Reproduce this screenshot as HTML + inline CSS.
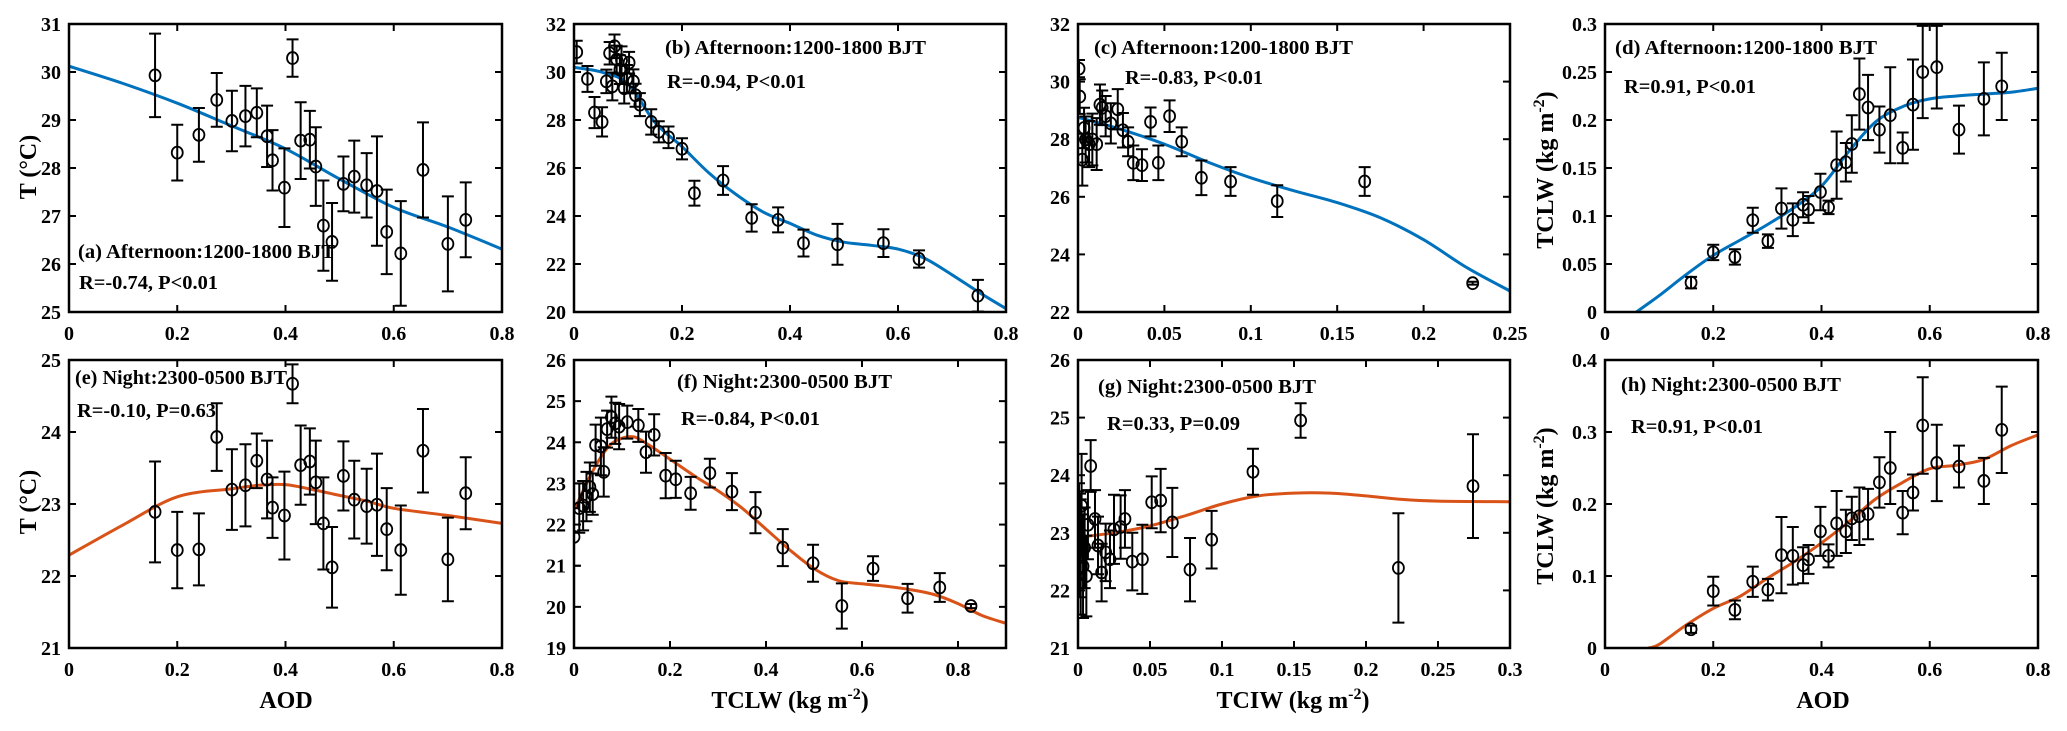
<!DOCTYPE html>
<html><head><meta charset="utf-8"><style>
html,body{margin:0;padding:0;background:#fff;}
svg{display:block;font-family:"Liberation Serif","Times New Roman",serif;font-weight:bold;}
svg text{font-family:"Liberation Serif","Times New Roman",serif;font-weight:bold;}
</style></head>
<body>
<svg id="fig" width="2067" height="731" viewBox="0 0 2067 731" xmlns="http://www.w3.org/2000/svg"></svg>
<script>
// ---------- DATA ----------
const aodX = [0.159,0.200,0.240,0.273,0.301,0.326,0.347,0.366,0.376,0.398,0.413,0.428,0.445,0.456,0.470,0.486,0.507,0.527,0.550,0.569,0.587,0.613,0.654,0.700,0.733];
const aY = [29.93,28.32,28.69,29.42,28.98,29.08,29.15,28.66,28.16,27.59,30.29,28.57,28.59,28.03,26.8,26.46,27.67,27.82,27.64,27.52,26.67,26.22,27.96,26.42,26.92];
const aErr = [0.87,0.58,0.56,0.56,0.63,0.63,0.51,0.64,0.63,0.82,0.39,0.8,0.6,0.82,0.94,0.81,0.57,0.75,0.67,1.14,0.88,1.09,0.99,0.99,0.78];
const aFitX = [0,0.1,0.2,0.3,0.4,0.5,0.6,0.7,0.8];
const aFitY = [30.12,29.76,29.35,28.88,28.40,27.77,27.18,26.77,26.31];

const eY = [22.89,22.36,22.37,23.93,23.20,23.26,23.60,23.34,22.95,22.84,24.67,23.54,23.59,23.30,22.73,22.12,23.39,23.06,22.97,22.99,22.65,22.36,23.74,22.23,23.15];
const eErr = [0.7,0.53,0.5,0.47,0.56,0.57,0.38,0.54,0.42,0.61,0.27,0.55,0.46,0.58,0.64,0.56,0.48,0.54,0.52,0.71,0.57,0.62,0.58,0.58,0.5];
const eFitX = [0,0.1,0.2,0.3,0.35,0.4,0.45,0.5,0.55,0.6,0.7,0.8];
const eFitY = [22.29,22.71,23.1,23.21,23.26,23.27,23.2,23.12,23.04,22.94,22.84,22.73];

const bX = [0.005,0.025,0.038,0.052,0.06,0.066,0.071,0.075,0.079,0.085,0.088,0.093,0.098,0.102,0.110,0.114,0.122,0.143,0.157,0.175,0.2,0.223,0.276,0.329,0.378,0.425,0.488,0.573,0.639,0.748];
const bY = [30.83,29.71,28.31,27.92,29.61,30.78,29.4,31.07,30.52,30.1,30.49,29.32,29.71,30.39,29.61,29.03,28.64,27.92,27.51,27.28,26.8,24.95,25.48,23.92,23.84,22.87,22.82,22.87,22.21,20.68];
const bErr = [0.47,0.54,0.65,0.61,0.49,0.47,0.58,0.49,0.58,0.6,0.58,0.63,0.58,0.45,0.5,0.48,0.48,0.53,0.44,0.45,0.44,0.52,0.6,0.57,0.52,0.56,0.85,0.58,0.36,0.66];
const bFitX = [0,0.05,0.1,0.15,0.2,0.25,0.3,0.35,0.4,0.45,0.5,0.55,0.6,0.65,0.7,0.75,0.8];
const bFitY = [30.19,30.0,29.51,27.9,26.89,25.79,24.9,24.17,23.69,23.2,22.91,22.78,22.62,22.23,21.55,20.82,20.14];

const fX = [0.0,0.011,0.019,0.026,0.033,0.039,0.045,0.056,0.062,0.069,0.078,0.086,0.094,0.111,0.134,0.150,0.167,0.191,0.212,0.243,0.283,0.329,0.378,0.435,0.498,0.558,0.623,0.695,0.762,0.827];
const fY = [21.7,22.4,22.46,22.68,22.91,22.74,23.93,23.9,23.28,24.32,24.61,24.46,24.38,24.49,24.41,23.76,24.18,23.19,23.1,22.76,23.25,22.8,22.29,21.44,21.06,20.02,20.93,20.21,20.47,20.02];
const fErr = [0.7,0.6,0.6,0.6,0.6,0.5,0.5,0.7,0.6,0.45,0.5,0.5,0.55,0.4,0.4,0.5,0.5,0.55,0.45,0.4,0.35,0.45,0.5,0.45,0.45,0.55,0.3,0.35,0.35,0.05];
const fFitX = [0,0.025,0.05,0.075,0.1,0.125,0.15,0.2,0.25,0.3,0.35,0.4,0.45,0.5,0.55,0.6,0.65,0.7,0.75,0.8,0.85,0.9];
const fFitY = [22.34,22.97,23.53,23.93,24.1,24.13,23.98,23.59,23.19,22.82,22.4,21.89,21.38,20.93,20.64,20.56,20.5,20.42,20.3,20.08,19.79,19.6];

const cX = [0.0006,0.001,0.0025,0.0035,0.0044,0.0064,0.0083,0.0108,0.0127,0.014,0.016,0.019,0.023,0.026,0.029,0.032,0.037,0.042,0.0465,0.053,0.060,0.0714,0.0883,0.1153,0.1659,0.2284];
const cY = [30.45,29.48,27.29,28.39,27.99,27.83,27.99,27.83,29.2,29.09,28.8,28.55,29.04,28.31,27.91,27.18,27.1,28.6,27.18,28.8,27.91,26.66,26.53,25.85,26.53,23.0];
const cErr = [0.3,0.6,0.9,0.7,0.8,0.8,0.9,0.9,0.7,0.6,0.7,0.7,0.7,0.6,0.5,0.6,0.55,0.5,0.6,0.55,0.5,0.6,0.5,0.55,0.5,0.05];
const cFitX = [0,0.025,0.05,0.075,0.1,0.125,0.15,0.175,0.2,0.225,0.25];
const cFitY = [28.76,28.34,27.83,27.21,26.66,26.21,25.8,25.27,24.51,23.54,22.73];

const gX = [0.0002,0.0007,0.0014,0.0019,0.0025,0.0035,0.0046,0.0058,0.0069,0.0088,0.0118,0.0139,0.0164,0.0192,0.0222,0.025,0.0296,0.0326,0.0377,0.0447,0.0512,0.0574,0.0655,0.0778,0.0928,0.1215,0.1546,0.2225,0.2743];
const gY = [23.12,23.36,22.78,22.58,23.47,22.42,22.74,22.25,23.14,24.16,23.24,22.78,22.31,22.66,22.54,23.06,23.1,23.24,22.5,22.54,23.53,23.56,23.18,22.36,22.88,24.06,24.95,22.39,23.81];
const gErr = [0.6,0.5,0.9,1.0,0.9,0.9,0.7,0.7,0.6,0.45,0.5,0.5,0.5,0.5,0.5,0.6,0.55,0.5,0.5,0.6,0.45,0.55,0.6,0.55,0.5,0.4,0.3,0.95,0.9];
const gFitX = [0,0.025,0.05,0.075,0.1,0.125,0.15,0.175,0.2,0.225,0.25,0.3];
const gFitY = [22.92,23.0,23.12,23.3,23.5,23.64,23.69,23.69,23.64,23.58,23.55,23.54];

const dY = [0.0306,0.0621,0.0573,0.0956,0.0738,0.1078,0.0961,0.1117,0.1068,0.125,0.109,0.153,0.156,0.175,0.227,0.213,0.19,0.205,0.171,0.216,0.25,0.255,0.19,0.222,0.235];
const dErr = [0.006,0.008,0.008,0.013,0.007,0.021,0.017,0.013,0.014,0.019,0.007,0.035,0.02,0.03,0.037,0.034,0.024,0.05,0.016,0.047,0.048,0.043,0.025,0.038,0.035];
const dFitX = [0.058,0.1,0.15,0.2,0.25,0.3,0.35,0.4,0.45,0.5,0.55,0.6,0.65,0.7,0.75,0.8];
const dFitY = [0,0.017,0.039,0.059,0.075,0.091,0.109,0.131,0.167,0.198,0.214,0.222,0.225,0.227,0.229,0.233];

const hY = [0.026,0.079,0.053,0.092,0.081,0.129,0.128,0.115,0.123,0.162,0.128,0.173,0.162,0.18,0.183,0.186,0.23,0.25,0.188,0.216,0.309,0.257,0.252,0.232,0.303];
const hErr = [0.005,0.02,0.013,0.021,0.015,0.053,0.04,0.025,0.02,0.034,0.016,0.045,0.03,0.03,0.04,0.035,0.035,0.05,0.03,0.025,0.067,0.053,0.029,0.032,0.06];
const hFitX = [0.08,0.1,0.15,0.2,0.25,0.3,0.35,0.4,0.45,0.5,0.55,0.6,0.65,0.7,0.75,0.8];
const hFitY = [0,0.005,0.032,0.055,0.072,0.097,0.12,0.146,0.175,0.207,0.23,0.249,0.254,0.262,0.281,0.296];

const ticksAOD = [0,0.2,0.4,0.6,0.8];
const ticksAODLbl = ["0","0.2","0.4","0.6","0.8"];
const ticksF = [0,0.2,0.4,0.6,0.8];
const ticksC = [0,0.05,0.1,0.15,0.2,0.25];
const ticksCLbl = ["0","0.05","0.1","0.15","0.2","0.25"];
const ticksG = [0,0.05,0.1,0.15,0.2,0.25,0.3];
const ticksGLbl = ["0","0.05","0.1","0.15","0.2","0.25","0.3"];
const ticksDY = [0,0.05,0.1,0.15,0.2,0.25,0.3];
const ticksDYLbl = ["0","0.05","0.1","0.15","0.2","0.25","0.3"];
const ticksHY = [0,0.1,0.2,0.3,0.4];
const ticksHYLbl = ["0","0.1","0.2","0.3","0.4"];

// ---------- DRAWING ----------
const NS = "http://www.w3.org/2000/svg";
const svg = document.getElementById("fig");
const FONT = '"Liberation Serif", "Times New Roman", serif';
function mk(tag, parent){ const e=document.createElementNS(NS,tag); parent.appendChild(e); if(tag==="text"){e.setAttribute("font-family",FONT);e.setAttribute("font-weight","bold");} return e; }
const BLUE="#0072BD", RED="#D95319";

function smoothPath(pts){
  let d="M"+pts[0][0].toFixed(1)+","+pts[0][1].toFixed(1);
  for(let i=0;i<pts.length-1;i++){
    const p0=pts[Math.max(0,i-1)],p1=pts[i],p2=pts[i+1],p3=pts[Math.min(pts.length-1,i+2)];
    const c1=[p1[0]+(p2[0]-p0[0])/6,p1[1]+(p2[1]-p0[1])/6];
    const c2=[p2[0]-(p3[0]-p1[0])/6,p2[1]-(p3[1]-p1[1])/6];
    d+=" C"+c1[0].toFixed(1)+","+c1[1].toFixed(1)+" "+c2[0].toFixed(1)+","+c2[1].toFixed(1)+" "+p2[0].toFixed(1)+","+p2[1].toFixed(1);
  }
  return d;
}

let clipId=0;
function panel(p){
  const g=mk("g",svg);
  
  
  const sx=v=>p.L+(v-p.xmin)/(p.xmax-p.xmin)*(p.R-p.L);
  const sy=v=>p.B-(v-p.ymin)/(p.ymax-p.ymin)*(p.B-p.T);
  const cid="clip"+(clipId++);
  const cp=mk("clipPath",g); cp.setAttribute("id",cid);
  const cr=mk("rect",cp); cr.setAttribute("x",p.L); cr.setAttribute("y",p.T); cr.setAttribute("width",p.R-p.L); cr.setAttribute("height",p.B-p.T);
  p.xt.forEach((v,i)=>{
    const x=sx(v);
    const t1=mk("line",g); t1.setAttribute("x1",x);t1.setAttribute("x2",x);t1.setAttribute("y1",p.B);t1.setAttribute("y2",p.B-7);t1.setAttribute("stroke","#000");t1.setAttribute("stroke-width","2");
    
    
    const t2=mk("line",g); t2.setAttribute("x1",x);t2.setAttribute("x2",x);t2.setAttribute("y1",p.T);t2.setAttribute("y2",p.T+7);t2.setAttribute("stroke","#000");t2.setAttribute("stroke-width","2");
    
    
    const tl=mk("text",g); tl.setAttribute("x",x); tl.setAttribute("y",p.B+28); tl.setAttribute("text-anchor","middle"); tl.setAttribute("font-size","20");
    tl.textContent=p.xtl[i];
    
    
  });
  p.yt.forEach((v,i)=>{
    const y=sy(v);
    const t1=mk("line",g); t1.setAttribute("x1",p.L);t1.setAttribute("x2",p.L+7);t1.setAttribute("y1",y);t1.setAttribute("y2",y);t1.setAttribute("stroke","#000");t1.setAttribute("stroke-width","2");
    
    
    const t2=mk("line",g); t2.setAttribute("x1",p.R);t2.setAttribute("x2",p.R-7);t2.setAttribute("y1",y);t2.setAttribute("y2",y);t2.setAttribute("stroke","#000");t2.setAttribute("stroke-width","2");
    
    
    const tl=mk("text",g); tl.setAttribute("x",p.L-8); tl.setAttribute("y",y+7); tl.setAttribute("text-anchor","end"); tl.setAttribute("font-size","20");
    tl.textContent=p.ytl[i];
    
    
  });
  const dg=mk("g",g); dg.setAttribute("clip-path","url(#"+cid+")");
  
  
  const fp=p.fx.map((v,i)=>[sx(v),sy(p.fy[i])]);
  const fit=mk("path",dg); fit.setAttribute("d",smoothPath(fp)); fit.setAttribute("fill","none"); fit.setAttribute("stroke",p.color); fit.setAttribute("stroke-width","3");
  
  
  p.x.forEach((v,i)=>{
    const x=sx(v), y=sy(p.y[i]), y1=sy(p.y[i]+p.e[i]), y2=sy(p.y[i]-p.e[i]);
    const eb=mk("path",dg);
    eb.setAttribute("d","M"+x+","+y1+"V"+y2+"M"+(x-6)+","+y1+"H"+(x+6)+"M"+(x-6)+","+y2+"H"+(x+6));
    eb.setAttribute("stroke","#000"); eb.setAttribute("stroke-width","2"); eb.setAttribute("fill","none");
    
    
    const c=mk("ellipse",dg); c.setAttribute("cx",x); c.setAttribute("cy",y); c.setAttribute("rx","5.5"); c.setAttribute("ry","6"); c.setAttribute("fill","none"); c.setAttribute("stroke","#000"); c.setAttribute("stroke-width","1.8");
    
    
  });
  const fr=mk("rect",g); fr.setAttribute("x",p.L); fr.setAttribute("y",p.T); fr.setAttribute("width",p.R-p.L); fr.setAttribute("height",p.B-p.T); fr.setAttribute("fill","none"); fr.setAttribute("stroke","#000"); fr.setAttribute("stroke-width","2.5");
  
  
  const t1=mk("text",g); t1.setAttribute("x",p.tx); t1.setAttribute("y",p.ty); t1.setAttribute("font-size","20"); t1.setAttribute("textLength",p.tw); t1.setAttribute("lengthAdjust","spacingAndGlyphs");
  t1.textContent=p.title;
  
  
  const t2=mk("text",g); t2.setAttribute("x",p.rx); t2.setAttribute("y",p.ry); t2.setAttribute("font-size","20"); t2.setAttribute("textLength",p.rw); t2.setAttribute("lengthAdjust","spacingAndGlyphs");
  t2.textContent=p.rtext;
  
  
}

const R1T=24,R1B=312,R2T=360,R2B=648;
const cols=[[69,502],[574,1006],[1078,1510],[1605,2038]];
const rng=(a,b,s)=>{const r=[];for(let v=a;v<=b+1e-9;v+=s)r.push(+v.toFixed(4));return r;};

panel({id:"a",L:cols[0][0],R:cols[0][1],T:R1T,B:R1B,xmin:0,xmax:0.8,ymin:25,ymax:31,xt:ticksAOD,xtl:ticksAODLbl,yt:rng(25,31,1),ytl:rng(25,31,1).map(String),x:aodX,y:aY,e:aErr,fx:aFitX,fy:aFitY,color:BLUE,title:"(a) Afternoon:1200-1800 BJT",tx:78,ty:258,tw:257,rtext:"R=-0.74, P<0.01",rx:79,ry:289,rw:139});
panel({id:"e",L:cols[0][0],R:cols[0][1],T:R2T,B:R2B,xmin:0,xmax:0.8,ymin:21,ymax:25,xt:ticksAOD,xtl:ticksAODLbl,yt:rng(21,25,1),ytl:rng(21,25,1).map(String),x:aodX,y:eY,e:eErr,fx:eFitX,fy:eFitY,color:RED,title:"(e) Night:2300-0500 BJT",tx:75,ty:384,tw:212,rtext:"R=-0.10, P=0.63",rx:77,ry:417,rw:139});
panel({id:"b",L:cols[1][0],R:cols[1][1],T:R1T,B:R1B,xmin:0,xmax:0.8,ymin:20,ymax:32,xt:ticksAOD,xtl:ticksAODLbl,yt:rng(20,32,2),ytl:rng(20,32,2).map(String),x:bX,y:bY,e:bErr,fx:bFitX,fy:bFitY,color:BLUE,title:"(b) Afternoon:1200-1800 BJT",tx:665,ty:54,tw:261,rtext:"R=-0.94, P<0.01",rx:667,ry:88,rw:139});
panel({id:"f",L:cols[1][0],R:cols[1][1],T:R2T,B:R2B,xmin:0,xmax:0.9,ymin:19,ymax:26,xt:ticksF,xtl:ticksAODLbl,yt:rng(19,26,1),ytl:rng(19,26,1).map(String),x:fX,y:fY,e:fErr,fx:fFitX,fy:fFitY,color:RED,title:"(f) Night:2300-0500 BJT",tx:677,ty:388,tw:215,rtext:"R=-0.84, P<0.01",rx:681,ry:425,rw:139});
panel({id:"c",L:cols[2][0],R:cols[2][1],T:R1T,B:R1B,xmin:0,xmax:0.25,ymin:22,ymax:32,xt:ticksC,xtl:ticksCLbl,yt:rng(22,32,2),ytl:rng(22,32,2).map(String),x:cX,y:cY,e:cErr,fx:cFitX,fy:cFitY,color:BLUE,title:"(c) Afternoon:1200-1800 BJT",tx:1094,ty:54,tw:259,rtext:"R=-0.83, P<0.01",rx:1125,ry:84,rw:138});
panel({id:"g",L:cols[2][0],R:cols[2][1],T:R2T,B:R2B,xmin:0,xmax:0.3,ymin:21,ymax:26,xt:ticksG,xtl:ticksGLbl,yt:rng(21,26,1),ytl:rng(21,26,1).map(String),x:gX,y:gY,e:gErr,fx:gFitX,fy:gFitY,color:RED,title:"(g) Night:2300-0500 BJT",tx:1098,ty:393,tw:218,rtext:"R=0.33, P=0.09",rx:1107,ry:430,rw:133});
panel({id:"d",L:cols[3][0],R:cols[3][1],T:R1T,B:R1B,xmin:0,xmax:0.8,ymin:0,ymax:0.3,xt:ticksAOD,xtl:ticksAODLbl,yt:ticksDY,ytl:ticksDYLbl,x:aodX,y:dY,e:dErr,fx:dFitX,fy:dFitY,color:BLUE,title:"(d) Afternoon:1200-1800 BJT",tx:1615,ty:54,tw:262,rtext:"R=0.91, P<0.01",rx:1624,ry:93,rw:132});
panel({id:"h",L:cols[3][0],R:cols[3][1],T:R2T,B:R2B,xmin:0,xmax:0.8,ymin:0,ymax:0.4,xt:ticksAOD,xtl:ticksAODLbl,yt:ticksHY,ytl:ticksHYLbl,x:aodX,y:hY,e:hErr,fx:hFitX,fy:hFitY,color:RED,title:"(h) Night:2300-0500 BJT",tx:1621,ty:391,tw:220,rtext:"R=0.91, P<0.01",rx:1631,ry:433,rw:132});

function ylab(x,y,name,isT){
  const t=mk("text",svg); t.setAttribute("transform","translate("+x+","+y+") rotate(-90)"); t.setAttribute("text-anchor","middle"); t.setAttribute("font-size","24");
  if(isT){ t.textContent="T (°C)"; }
  else {
    t.appendChild(document.createTextNode("TCLW (kg m"));
    const s=mk("tspan",t); s.setAttribute("dy","-9"); s.setAttribute("font-size","16"); s.textContent="-2";
    const s2=mk("tspan",t); s2.setAttribute("dy","9"); s2.textContent=")";
  }
  
  
}
ylab(36,167,"y-axis-title-a",true);
ylab(36,502,"y-axis-title-e",true);
ylab(1553,170,"y-axis-title-d",false);
ylab(1553,506,"y-axis-title-h",false);

function xlab(cx,name,main,sup){
  const t=mk("text",svg); t.setAttribute("x",cx); t.setAttribute("y",708); t.setAttribute("text-anchor","middle"); t.setAttribute("font-size","24");
  t.appendChild(document.createTextNode(main));
  if(sup){
    const s=mk("tspan",t); s.setAttribute("dy","-9"); s.setAttribute("font-size","16"); s.textContent="-2";
    const s2=mk("tspan",t); s2.setAttribute("dy","9"); s2.textContent=")";
  }
  
  
}
xlab(286,"x-axis-title-aod-left","AOD",false);
xlab(790,"x-axis-title-tclw","TCLW (kg m",true);
xlab(1293,"x-axis-title-tciw","TCIW (kg m",true);
xlab(1823,"x-axis-title-aod-right","AOD",false);
</script>
</body></html>
